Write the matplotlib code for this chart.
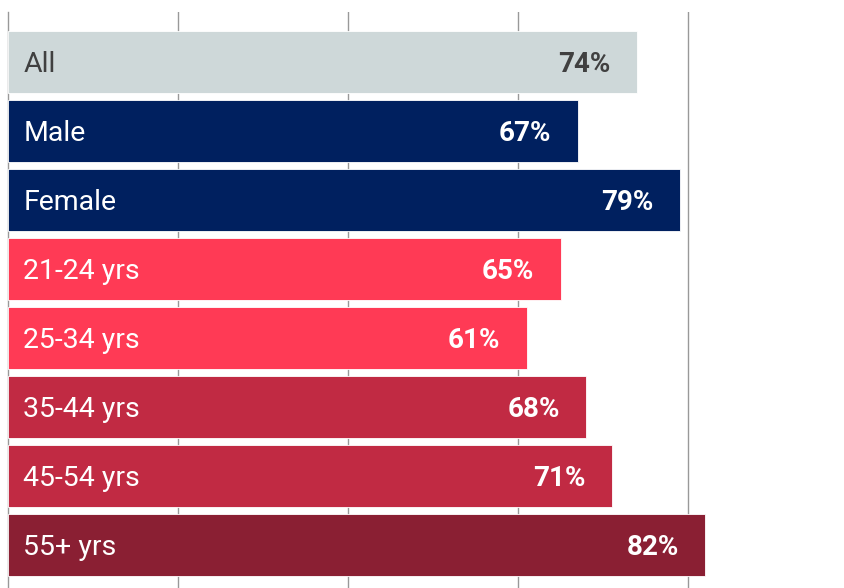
import matplotlib.pyplot as plt

# Share of respondents by group
groups = ['All', 'Male', 'Female', '21-24 yrs', '25-34 yrs', '35-44 yrs', '45-54 yrs', '55+ yrs']
values = [74, 67, 79, 65, 61, 68, 71, 82]
bar_colors = ['#CED8D9', '#00205F', '#00205F', '#FF3A55', '#FF3A55', '#C12A43', '#C12A43', '#8A1F33']
text_colors = ['#404040', 'white', 'white', 'white', 'white', 'white', 'white', 'white']
grid_ticks = [20, 40, 60, 80]

plt.rcParams['font.family'] = ['Roboto', 'DejaVu Sans']

fig = plt.figure(figsize=(8.44, 5.88), dpi=100, facecolor='white')
ax = fig.add_axes([8 / 844, 0, 1 - 8 / 844, 1 - 12 / 588])

ypos = list(range(len(groups)))
ax.barh(ypos, values, height=0.9, color=bar_colors, edgecolor='white',
        linewidth=0.6, zorder=3)

for y, name, v, tc in zip(ypos, groups, values, text_colors):
    ax.text(1.8, y + 0.04, name, ha='left', va='center', fontsize=20.5,
            color=tc, zorder=4)
    ax.text(v - 3.1, y + 0.04, f'{v}%', ha='right', va='center', fontsize=20,
            fontweight='bold', color=tc, zorder=4)

ax.set_xlim(0, 836 / 8.5)
ax.set_ylim(7.62, -0.72)

ax.set_xticks(grid_ticks)
ax.set_yticks([])
ax.tick_params(axis='x', length=0, labelbottom=False)
ax.grid(axis='x', color='#999999', linewidth=1.0, zorder=0)

for s in ['top', 'right', 'bottom']:
    ax.spines[s].set_visible(False)
ax.spines['left'].set_color('#999999')
ax.spines['left'].set_linewidth(1.0)

plt.savefig('out.png', dpi=100, facecolor='white')
